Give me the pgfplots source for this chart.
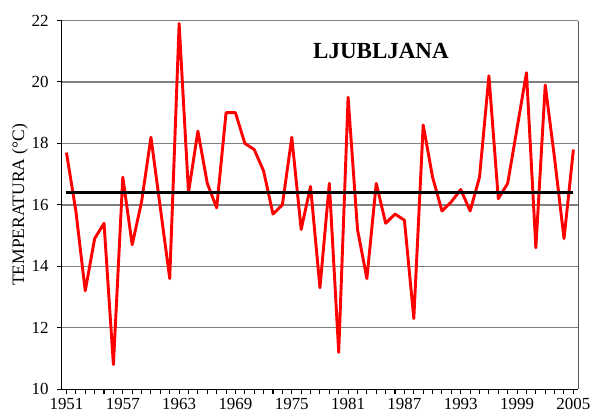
\documentclass[border=0pt]{standalone}
\usepackage{fontspec}
\setmainfont{Liberation Serif}
\usepackage{pgfplots}
\pgfplotsset{compat=1.18}

\pgfplotstableread{
year temp
1951 17.7
1952 15.8
1953 13.2
1954 14.9
1955 15.4
1956 10.8
1957 16.9
1958 14.7
1959 16.1
1960 18.2
1961 15.9
1962 13.6
1963 21.9
1964 16.4
1965 18.4
1966 16.7
1967 15.9
1968 19.0
1969 19.0
1970 18.0
1971 17.8
1972 17.1
1973 15.7
1974 16.0
1975 18.2
1976 15.2
1977 16.6
1978 13.3
1979 16.7
1980 11.2
1981 19.5
1982 15.2
1983 13.6
1984 16.7
1985 15.4
1986 15.7
1987 15.5
1988 12.3
1989 18.6
1990 16.9
1991 15.8
1992 16.1
1993 16.5
1994 15.8
1995 16.9
1996 20.2
1997 16.2
1998 16.7
1999 18.5
2000 20.3
2001 14.6
2002 19.9
2003 17.5
2004 14.9
2005 17.8
}\ljubljana

\begin{document}
\begin{tikzpicture}
\begin{axis}[
  scale only axis, width=390.3pt, height=278.7pt,
  xmin=1950.5, xmax=2005.5, ymin=10, ymax=22,
  axis lines=left,
  axis line style={-, black, line width=0.9pt},
  ytick={10,12,...,22},
  xtick={1951,1957,...,2005},
  minor xtick={1951,...,2005},
  tick align=outside,
  major tick length=3.5pt, minor tick length=3.5pt,
  tick style={black, line width=0.8pt},
  ymajorgrids=true,
  grid style={gray, line width=1pt},
  /pgf/number format/assume math mode=true,
  xticklabel style={/pgf/number format/1000 sep=},
  yticklabel style={xshift=-3pt},
  ticklabel style={font=\fontsize{12.8}{14}\selectfont},
  ylabel={TEMPERATURA (°C)},
  ylabel style={font=\fontsize{13.2}{15}\selectfont, at={([xshift=-31.6pt]axis description cs:0,0.5)}, anchor=center},
  clip=false,
  after end axis/.code={
    \draw[gray!70!black, line width=0.9pt] (rel axis cs:1,0) -- (rel axis cs:1,1);
    \coordinate (sw) at (rel axis cs:0,0);
    \coordinate (ne) at (rel axis cs:1,1);
  },
]
\addplot[red, line width=2.2pt, line join=round] table[x=year, y=temp] {\ljubljana};
\addplot[black, line width=1.8pt] coordinates {(1951,16.4) (2005,16.4)};
\node[font=\bfseries\fontsize{17.4}{20}\selectfont] at (axis cs:1984.5,21.0) {LJUBLJANA};
\end{axis}
\pgfresetboundingbox
\path ([shift={(-46.7pt,-19pt)}]sw) rectangle ([shift={(9pt,15.5pt)}]ne);
\end{tikzpicture}
\end{document}
